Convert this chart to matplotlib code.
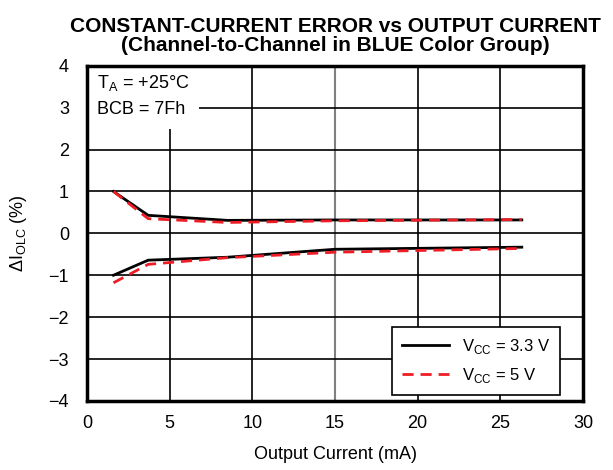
import numpy as np
import matplotlib.pyplot as plt
from matplotlib.patches import Rectangle

plt.rcParams['font.family'] = ['Liberation Sans', 'DejaVu Sans']

current = [1.6, 3.7, 8.5, 15, 26.3]
err_33_upper = [1.0, 0.43, 0.31, 0.32, 0.32]
err_5_upper = [1.0, 0.35, 0.26, 0.30, 0.33]
err_33_lower = [-1.0, -0.64, -0.57, -0.38, -0.33]
err_5_lower = [-1.18, -0.74, -0.58, -0.45, -0.36]

fig = plt.figure(figsize=(6.13, 4.70), dpi=100)
ax = fig.add_axes([0.142, 0.147, 0.809, 0.713])

for x in [5, 10, 20, 25]:
    ax.axvline(x, color='black', lw=1.2, zorder=1)
ax.axvline(15, color='#808080', lw=1.5, zorder=1)
for y in range(-3, 4):
    ax.axhline(y, color='black', lw=1.2, zorder=1)

# white patch behind the condition text
ax.add_patch(Rectangle((0, 2.5), 6.8, 1.5, facecolor='white', edgecolor='none', zorder=2))

ax.plot(current, err_33_upper, color='black', lw=2, zorder=3, label='V$_{\\mathregular{CC}}$ = 3.3 V')
ax.plot(current, err_33_lower, color='black', lw=2, zorder=3)
ax.plot(current, err_5_upper, color='#ee1c25', lw=2, ls=(0, (4, 2.5)), zorder=4, label='V$_{\\mathregular{CC}}$ = 5 V')
ax.plot(current, err_5_lower, color='#ee1c25', lw=2, ls=(0, (4, 2.5)), zorder=4)

ax.set_xlim(0, 30)
ax.set_ylim(-4, 4)
ax.set_xticks(range(0, 31, 5))
ax.set_yticks(range(-4, 5))
ax.set_yticklabels(['\u22124', '\u22123', '\u22122', '\u22121', '0', '1', '2', '3', '4'])
ax.tick_params(length=0, labelsize=13)
ax.tick_params(axis='x', pad=10)
ax.tick_params(axis='y', pad=13)
for s in ax.spines.values():
    s.set_linewidth(2.5)

ax.text(0.6, 3.82, 'T$_{\\mathregular{A}}$ = +25°C\nBCB = 7Fh', fontsize=13, va='top', ha='left',
        linespacing=1.6, zorder=5)

leg = ax.legend(loc='lower right', fontsize=12, frameon=True, fancybox=False,
                edgecolor='black', framealpha=1, handlelength=2.8, borderpad=0.6,
                labelspacing=0.6, borderaxespad=0, bbox_to_anchor=(0.954, 0.018))
leg.get_frame().set_linewidth(1.2)
leg.set_zorder(6)

ax.set_xlabel('Output Current (mA)', fontsize=13, labelpad=10)
ax.set_ylabel('\u0394I$_{\\mathregular{OLC}}$ (%)', fontsize=13, labelpad=14)
ax.set_title('CONSTANT-CURRENT ERROR vs OUTPUT CURRENT\n(Channel-to-Channel in BLUE Color Group)',
             fontsize=15, fontweight='bold', linespacing=1.0, pad=11)

fig.savefig('out.png', dpi=100)
